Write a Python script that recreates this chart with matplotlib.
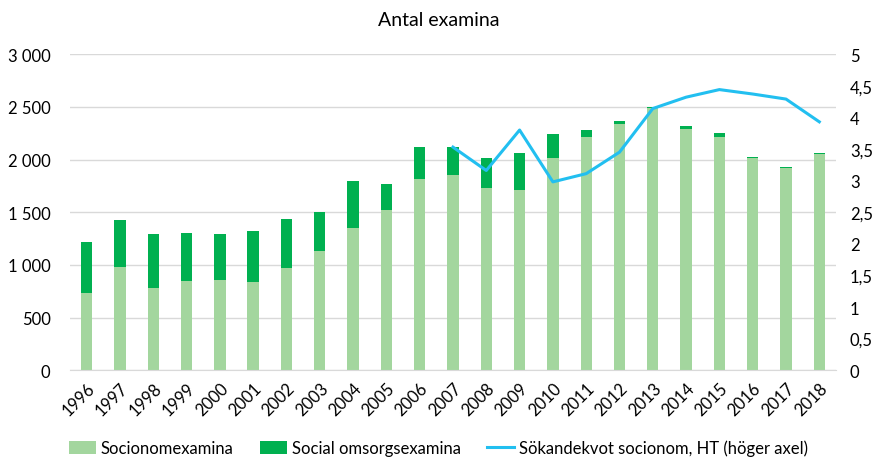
import matplotlib
matplotlib.use("Agg")
import matplotlib.pyplot as plt
import numpy as np

plt.rcParams['font.family'] = ['Lato', 'DejaVu Sans']

years = [str(y) for y in range(1996, 2019)]
socionom = [737, 977, 781, 847, 857, 841, 970, 1132, 1353, 1520, 1814, 1849,
            1726, 1710, 2014, 2210, 2336, 2485, 2289, 2216, 2014, 1922, 2048]
social_omsorg = [483, 449, 512, 458, 439, 483, 465, 366, 442, 244, 304, 269,
                 288, 351, 227, 69, 32, 18, 28, 35, 9, 9, 13]
sokandekvot = [None] * 11 + [3.53, 3.16, 3.80, 2.98, 3.11, 3.45, 4.14, 4.32, 4.44, 4.37, 4.29, 3.93]

left_ticks = [0, 500, 1000, 1500, 2000, 2500, 3000]
left_labels = ["0", "500", "1 000", "1 500", "2 000", "2 500", "3 000"]
right_ticks = [0, 0.5, 1, 1.5, 2, 2.5, 3, 3.5, 4, 4.5, 5]
right_labels = ["0", "0,5", "1", "1,5", "2", "2,5", "3", "3,5", "4", "4,5", "5"]

c_light = "#A3D69E"
c_dark = "#00B050"
c_line = "#22BFF0"

fig = plt.figure(figsize=(8.77, 4.6), dpi=100)
ax = fig.add_axes([0.0798, 0.193, 0.8734, 0.687])
x = np.arange(len(years))
w = 0.34
b1 = ax.bar(x, socionom, width=w, color=c_light, label="Socionomexamina", zorder=2)
b2 = ax.bar(x, social_omsorg, width=w, bottom=socionom, color=c_dark,
            label="Social omsorgsexamina", zorder=2)
ax.set_xlim(-0.5, len(years) - 0.5)
ax.set_ylim(0, 3000)
ax.set_yticks(left_ticks)
ax.set_yticklabels(left_labels, fontsize=12)
ax.set_xticks(x)
ax.set_xticklabels(years, rotation=45, ha="right", rotation_mode="anchor", fontsize=12)
ax.yaxis.grid(True, color="#D9D9D9", linewidth=1, zorder=0)
ax.set_axisbelow(True)
for s in ["top", "right", "left"]:
    ax.spines[s].set_visible(False)
ax.spines["bottom"].set_color("#D9D9D9")
ax.tick_params(axis="both", length=0, pad=7)
ax.tick_params(axis="y", pad=14)

ax2 = ax.twinx()
yv = np.array([np.nan if v is None else v for v in sokandekvot], dtype=float)
l1, = ax2.plot(x, yv, color=c_line, linewidth=2.2, label="Sökandekvot socionom, HT (höger axel)")
ax2.set_ylim(0, 5)
ax2.set_yticks(right_ticks)
ax2.set_yticklabels(right_labels, fontsize=12)
ax2.tick_params(axis="y", length=0, pad=10)
for s in ["top", "right", "left", "bottom"]:
    ax2.spines[s].set_visible(False)

fig.suptitle("Antal examina", x=0.5, y=0.975, fontsize=14)
fig.legend(handles=[b1, b2, l1], loc="center", bbox_to_anchor=(0.5, 0.024),
           ncol=3, frameon=False, fontsize=12, handlelength=1.6, handleheight=0.9,
           columnspacing=1.6, handletextpad=0.3)

fig.savefig("out.png", dpi=100)
